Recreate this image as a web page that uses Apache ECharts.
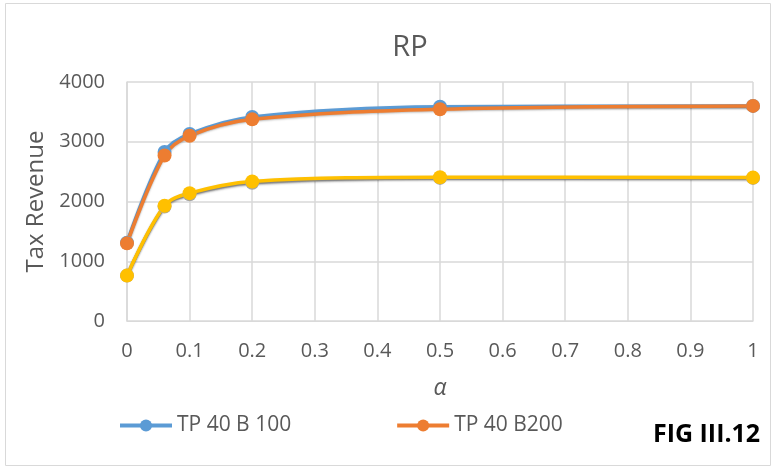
<!DOCTYPE html>
<html><head><meta charset="utf-8">
<script src="https://cdn.jsdelivr.net/npm/echarts@6/dist/echarts.min.js"></script>
<style>html,body{margin:0;padding:0;background:#fff}#c{width:776px;height:468px}</style>
</head><body><div id="c"></div>
<script>
const alphas = [0, 0.06, 0.1, 0.2, 0.5, 1];
const tp40b100 = [1310, 2830, 3130, 3415, 3585, 3600];
const tp40b200 = [1300, 2770, 3100, 3375, 3545, 3600];
const grayS    = [760, 1915, 2120, 2315, 2395, 2395];
const yellowS  = [760, 1930, 2140, 2335, 2405, 2400];
const names = ['TP 40 B 100', 'TP 40 B200', 'Series 3', 'Series 4'];
const colors = ['#5B9BD5', '#ED7D31', '#A5A5A5', '#FFC000'];
const FONT = '"Open Sans",sans-serif';

const pairs = a => alphas.map((x, i) => [x, a[i]]);
const mk = (name, data, color) => ({
  name, type: 'line', data: pairs(data), smooth: 0.35,
  symbol: 'circle', symbolSize: 14,
  lineStyle: { width: 3.5, color, shadowColor: 'rgba(0,0,0,0.25)', shadowBlur: 2, shadowOffsetY: 1 },
  itemStyle: { color },
  emphasis: { disabled: true }, animation: false
});

const chart = echarts.init(document.getElementById('c'), null, { renderer: 'canvas' });
chart.setOption({
  animation: false,
  title: { text: 'RP', left: 405, top: 28, textAlign: 'center',
    textStyle: { fontFamily: FONT, fontSize: 29, fontWeight: 'normal', color: '#595959' } },
  grid: { left: 127, right: 23, top: 82, bottom: 147 },
  legend: {
    data: [names[0], names[1]], left: 118, top: 415, padding: 0,
    itemWidth: 52, itemHeight: 15, itemGap: 104,
    lineStyle: { width: 4, shadowBlur: 0 },
    textStyle: { fontFamily: FONT, fontSize: 21, color: '#595959' }
  },
  xAxis: {
    type: 'value', min: 0, max: 1, interval: 0.1,
    name: 'α', nameLocation: 'middle', nameGap: 56,
    nameTextStyle: { fontFamily: FONT, fontSize: 23, fontStyle: 'italic', color: '#595959' },
    axisLine: { show: true, lineStyle: { color: '#D9D9D9', width: 1 } },
    axisTick: { show: false },
    splitLine: { show: true, lineStyle: { color: '#D9D9D9', width: 1.5 } },
    axisLabel: { fontFamily: FONT, fontSize: 20, color: '#595959', margin: 20,
      formatter: v => String(+v.toFixed(1)) }
  },
  yAxis: {
    type: 'value', min: 0, max: 4000, interval: 1000,
    name: 'Tax Revenue', nameLocation: 'middle', nameGap: 79,
    nameTextStyle: { fontFamily: FONT, fontSize: 24, color: '#595959' },
    axisLine: { show: true, lineStyle: { color: '#D9D9D9', width: 1.5 } },
    axisTick: { show: false },
    splitLine: { show: true, lineStyle: { color: '#D9D9D9', width: 1.5 } },
    axisLabel: { fontFamily: FONT, fontSize: 20, color: '#595959', margin: 22,
      formatter: v => String(v) }
  },
  graphic: [
    { type: 'rect', shape: { x: 5.5, y: 3.5, width: 765, height: 462 },
      style: { fill: null, stroke: '#D9D9D9', lineWidth: 1 }, silent: true, z: -1 },
    { type: 'text', left: 653, top: 422,
      style: { text: 'FIG III.12', font: 'bold 25px ' + FONT, fill: '#000' } }
  ],
  series: [
    mk(names[0], tp40b100, colors[0]),
    mk(names[1], tp40b200, colors[1]),
    mk(names[2], grayS, colors[2]),
    mk(names[3], yellowS, colors[3])
  ]
});
</script></body></html>
